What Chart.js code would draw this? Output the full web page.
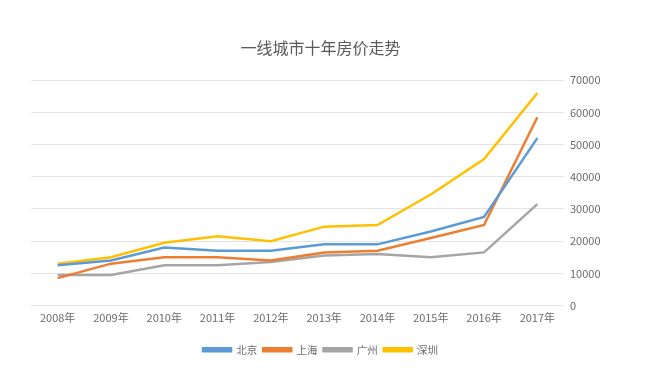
<!DOCTYPE html>
<html>
<head>
<meta charset="utf-8">
<script src="https://cdn.jsdelivr.net/npm/chart.js@4.4.1/dist/chart.umd.min.js"></script>
<style>
  html, body { margin: 0; padding: 0; background: #fff; }
  #wrap { width: 667px; height: 368px; }
</style>
</head>
<body>
<div id="wrap"><canvas id="priceChart"></canvas></div>
<script>
// 数据
const years = ["2008年", "2009年", "2010年", "2011年", "2012年", "2013年", "2014年", "2015年", "2016年", "2017年"];
const beijing = [12500, 14000, 18000, 17000, 17000, 19000, 19000, 23000, 27500, 52000];
const shanghai = [8500, 13000, 15000, 15000, 14000, 16500, 17000, 21000, 25000, 58500];
const guangzhou = [9500, 9500, 12500, 12500, 13500, 15500, 16000, 15000, 16500, 31500];
const shenzhen = [13000, 15000, 19500, 21500, 20000, 24500, 25000, 34500, 45500, 66000];

const cjkFont = "'Noto Sans CJK SC', 'Noto Sans', sans-serif";
const textGray = "#6b6b6b";

function makeSeries(label, data, color) {
    return {
        label: label,
        data: data,
        borderColor: color,
        backgroundColor: color,
        borderWidth: 2.5,
        pointRadius: 0,
        tension: 0
    };
}

const ctx = document.getElementById("priceChart").getContext("2d");

new Chart(ctx, {
    type: "line",
    data: {
        labels: years,
        datasets: [
            makeSeries("北京", beijing, "#5B9BD5"),
            makeSeries("上海", shanghai, "#ED7D31"),
            makeSeries("广州", guangzhou, "#A5A5A5"),
            makeSeries("深圳", shenzhen, "#FFC000")
        ]
    },
    options: {
        responsive: true,
        maintainAspectRatio: false,
        animation: false,
        layout: { padding: { left: 31, right: 57, top: 38, bottom: 3 } },
        scales: {
            x: {
                offset: true,
                grid: { display: false, drawTicks: false },
                border: { display: false },
                ticks: {
                    color: textGray,
                    font: { family: cjkFont, size: 11 },
                    maxRotation: 0,
                    padding: 6
                },
                afterFit: function (scale) { scale.height = 33; }
            },
            y: {
                position: "right",
                min: 0,
                max: 70000,
                ticks: {
                    stepSize: 10000,
                    color: textGray,
                    font: { family: cjkFont, size: 11 },
                    padding: 6,
                    callback: v => String(v)
                },
                grid: { color: "#e3e3e3", drawTicks: false },
                border: { display: false },
                afterFit: function (scale) { scale.width = 46; }
            }
        },
        plugins: {
            title: {
                display: true,
                text: "一线城市十年房价走势",
                color: "#595959",
                font: { family: cjkFont, size: 16, weight: "normal" },
                padding: { top: 0, bottom: 23 }
            },
            legend: {
                position: "bottom",
                labels: {
                    color: textGray,
                    font: { family: cjkFont, size: 10.5 },
                    boxWidth: 28,
                    boxHeight: 3,
                    padding: 6
                }
            },
            tooltip: { enabled: false }
        }
    }
});
</script>
</body>
</html>
